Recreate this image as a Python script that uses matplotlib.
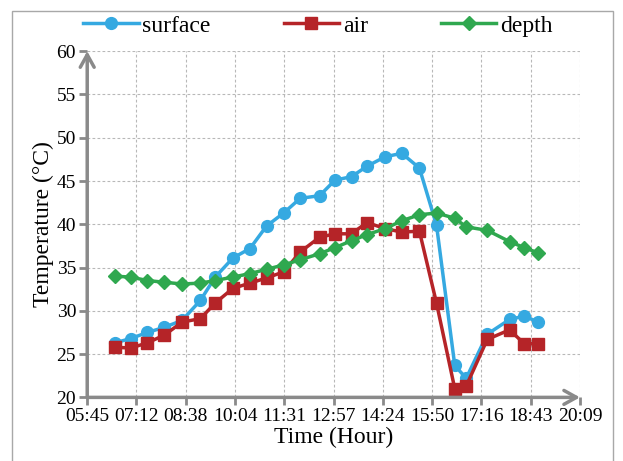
import numpy as np
import matplotlib
matplotlib.use("Agg")
import matplotlib.pyplot as plt
from matplotlib.ticker import FuncFormatter
from matplotlib.patches import Rectangle

plt.rcParams['font.family'] = ['Liberation Serif', 'DejaVu Serif']

# measurement times (hh:mm)
times = ["06:34", "07:02", "07:31", "08:01", "08:32", "09:04", "09:30",
         "10:01", "10:31", "11:00", "11:30", "11:59", "12:33", "13:00",
         "13:29", "13:56", "14:28", "14:57", "15:28", "15:58", "16:30",
         "16:50", "17:27", "18:06", "18:32", "18:56"]

surface = [26.3, 26.8, 27.5, 28.1, 28.9, 31.2, 33.9, 36.1, 37.2, 39.8,
           41.3, 43.0, 43.3, 45.1, 45.5, 46.7, 47.8, 48.2, 46.5, 39.9,
           23.7, 22.2, 27.3, 29.0, 29.4, 28.7]
air = [25.8, 25.7, 26.3, 27.2, 28.7, 29.1, 30.9, 32.6, 33.2, 33.8,
       34.5, 36.8, 38.5, 38.9, 38.9, 40.2, 39.5, 39.1, 39.2, 30.9,
       21.0, 21.3, 26.7, 27.8, 26.2, 26.2]
depth = [34.0, 33.9, 33.5, 33.3, 33.1, 33.2, 33.5, 33.9, 34.3, 34.8,
         35.3, 35.9, 36.6, 37.3, 38.1, 38.8, 39.5, 40.4, 41.1, 41.3,
         40.7, 39.7, 39.3, 38.0, 37.3, 36.7]


def day_frac(s):
    h, m = s.split(":")
    return int(h) / 24 + int(m) / 1440


def hhmm(x, pos=None):
    mins = int(np.floor(x * 1440 + 1e-6))
    return "%02d:%02d" % (mins // 60, mins % 60)


t = np.array([day_frac(s) for s in times])

grey = "#8a8a8a"
fig = plt.figure(figsize=(6.23, 4.61), dpi=100)
ax = fig.add_axes([0.140, 0.138, 0.791, 0.751])

ax.plot(t, surface, color="#35a9e1", lw=2.5, marker="o", ms=8.5, label="surface")
ax.plot(t, air, color="#b52428", lw=2.5, marker="s", ms=8.5, label="air")
ax.plot(t, depth, color="#2fa84f", lw=2.5, marker="D", ms=6.8, label="depth")

ax.set_xlim(0.24, 0.84)
ax.set_ylim(20, 60)
ax.set_xticks(np.arange(0.24, 0.8401, 0.06))
ax.set_yticks(np.arange(20, 61, 5))
ax.xaxis.set_major_formatter(FuncFormatter(hhmm))

ax.grid(True, ls=(0, (2.5, 2)), color="#b8b8b8", lw=0.8)
ax.set_axisbelow(True)
for s in ax.spines.values():
    s.set_visible(False)
ax.tick_params(axis="both", direction="out", length=6, width=2, color=grey,
               labelsize=14, pad=2)

# axis lines with open arrowheads
ax.annotate("", xy=(0, 1), xytext=(0, 0), xycoords="axes fraction",
            arrowprops=dict(arrowstyle="->,head_length=0.9,head_width=0.5",
                            color=grey, lw=2.5, shrinkA=0, shrinkB=0))
ax.annotate("", xy=(1, 0), xytext=(0, 0), xycoords="axes fraction",
            arrowprops=dict(arrowstyle="->,head_length=0.9,head_width=0.5",
                            color=grey, lw=2.5, shrinkA=0, shrinkB=0))

ax.set_xlabel("Time (Hour)", fontsize=17, labelpad=1)
ax.set_ylabel("Temperature (°C)", fontsize=17, labelpad=2)

ax.legend(loc="center", bbox_to_anchor=(0.51, 0.944), bbox_transform=fig.transFigure,
          ncol=3, frameon=False, fontsize=17, handlelength=2.35,
          handletextpad=0.15, columnspacing=3.1, markerscale=1.0)

fig.add_artist(Rectangle((0.019, -0.01), 0.965, 0.986, transform=fig.transFigure,
                         fill=False, ec="#a8a8a8", lw=1.0))

fig.savefig("out.png", dpi=100)
